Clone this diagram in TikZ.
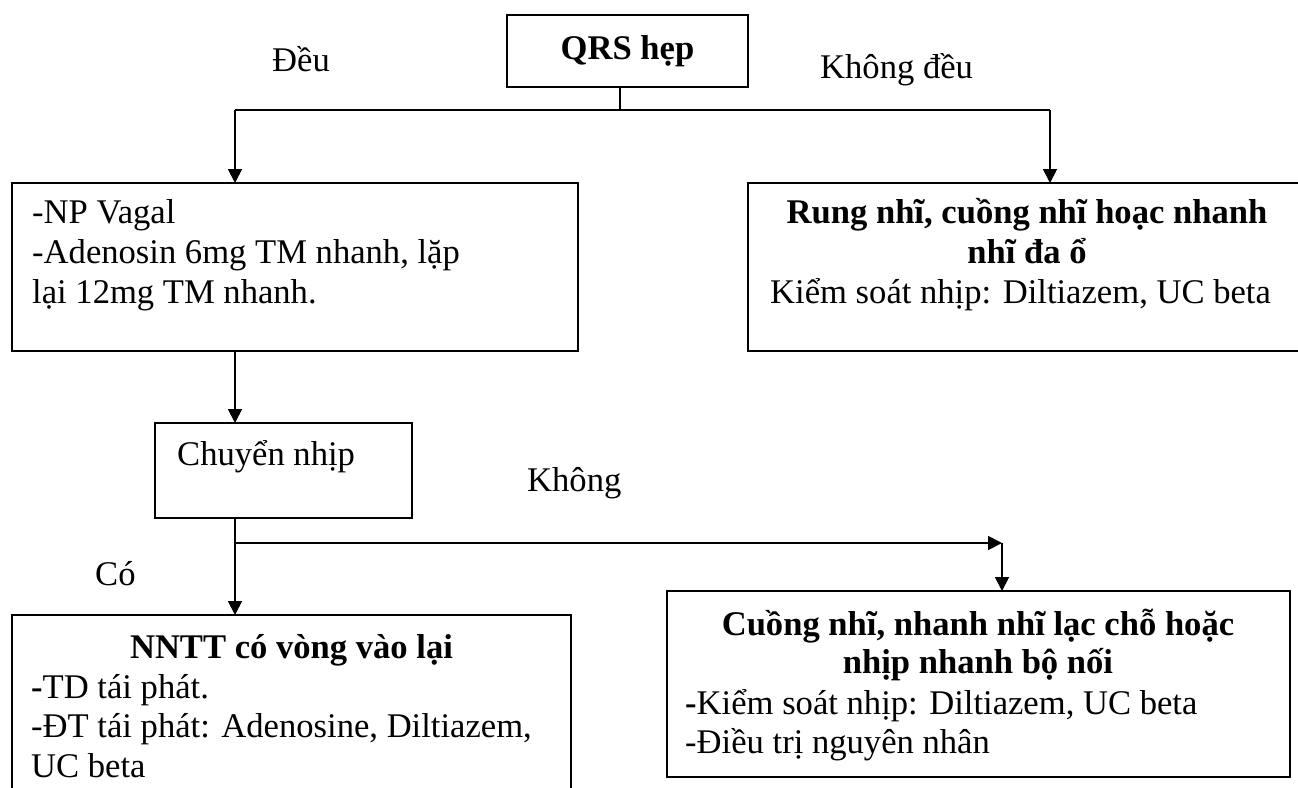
\documentclass[tikz,border=0pt]{standalone}
\usepackage{fontspec}
\setmainfont{Liberation Serif}
\usetikzlibrary{arrows.meta}
\begin{document}
\begin{tikzpicture}[x=1pt,y=-1pt,
  font=\fontsize{34.6}{40}\selectfont,
  box/.style={draw,line width=1.8pt,inner sep=0pt,outer sep=0pt,anchor=north west},
  conn/.style={line width=1.8pt},
  arr/.style={conn,-{Triangle[length=14pt,width=14pt]}},
  txt/.style={inner sep=0pt,anchor=base west},
  ctxt/.style={inner sep=0pt,anchor=base}]
\clip (0,0) rectangle (1298,787);
% boxes
\node[box,anchor=center,minimum width=241pt,minimum height=72pt] (qrs) at (627.5,51) {\textbf{QRS hẹp}};
\node[box,minimum width=566pt,minimum height=168pt] (np) at (12,183) {};
\node[box,minimum width=558pt,minimum height=168pt] (rung) at (748,183) {};
\node[box,minimum width=257pt,minimum height=95pt] (cn) at (155,423) {};
\node[box,minimum width=559pt,minimum height=190pt] (nntt) at (12,615) {};
\node[box,minimum width=623pt,minimum height=186pt] (cuong) at (667,591) {};
% texts
\node[txt] (np1) at (32,223) {-NP Vagal};
\node[txt] (np2) at (32,263) {-Adenosin 6mg TM nhanh, lặp};
\node[txt] (np3) at (32,303) {lại 12mg TM nhanh.};
\node[ctxt] (r1) at (1027,223) {\textbf{Rung nhĩ, cuồng nhĩ hoạc nhanh}};
\node[ctxt] (r2) at (1027,263) {\textbf{nhĩ đa ổ}};
\node[txt] (r3) at (770,303) {Kiểm soát nhịp: Diltiazem, UC beta};
\node[txt] (cn1) at (177,465) {Chuyển nhịp};
\node[ctxt] (n1) at (291.5,658) {\textbf{NNTT có vòng vào lại}};
\node[txt] (n2) at (31,698) {\textbf{-}TD tái phát.};
\node[txt] (n3) at (31,737) {-ĐT tái phát: Adenosine, Diltiazem,};
\node[txt] (n4) at (31,777) {UC beta};
\node[ctxt] (c1) at (978,635) {\textbf{Cuồng nhĩ, nhanh nhĩ lạc chỗ hoặc}};
\node[ctxt] (c2) at (978,673) {\textbf{nhịp nhanh bộ nối}};
\node[txt] (c3) at (685,714) {\textbf{-}Kiểm soát nhịp: Diltiazem, UC beta};
\node[txt] (c4) at (685,753) {-Điều trị nguyên nhân};
% labels
\node[txt] (ldeu) at (272,71) {Đều};
\node[txt] (lkdeu) at (820,78) {Không đều};
\node[txt] (lkhong) at (527,491) {Không};
\node[txt] (lco) at (95,585) {Có};
% connectors
\coordinate (j1) at (620,110);
\coordinate (aL) at (235,110);
\coordinate (aR) at (1050,110);
\coordinate (b1) at (235,543);
\coordinate (b2) at (1002,543);
\draw[conn] (qrs.south -| j1) -- (j1);
\draw[conn] (aL) -- (aR);
\draw[arr] (aL) -- (np.north -| aL);
\draw[arr] (aR) -- (rung.north -| aR);
\draw[arr] (np.south -| aL) -- (cn.north -| aL);
\draw[arr] (cn.south -| aL) -- (nntt.north -| aL);
\draw[arr] (b1) -- (b2);
\draw[arr] (b2) -- (cuong.north -| b2);
\end{tikzpicture}
\end{document}
